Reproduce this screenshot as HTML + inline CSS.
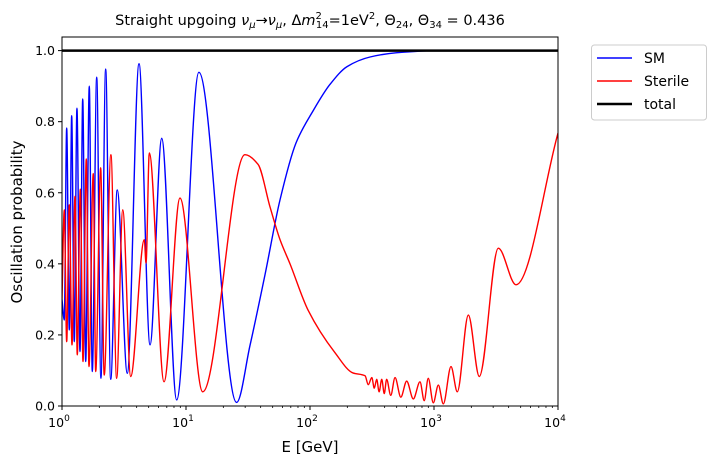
<!DOCTYPE html>
<html><head><meta charset="utf-8"><style>
html,body{margin:0;padding:0;background:#fff;}
svg{display:block;font-family:"DejaVu Sans","Liberation Sans",sans-serif;}
</style></head><body>
<svg id="chart" width="715" height="465" viewBox="0 0 715 465">
<text x="310" y="25" text-anchor="middle" font-size="14.5">Straight upgoing <tspan font-style="italic">ν</tspan><tspan font-size="10" dy="3" font-style="italic">μ</tspan><tspan dy="-3">→</tspan><tspan font-style="italic">ν</tspan><tspan font-size="10" dy="3" font-style="italic">μ</tspan><tspan dy="-3">, Δ</tspan><tspan font-style="italic">m</tspan><tspan font-size="10" dy="-6">2</tspan><tspan font-size="10" dx="-6" dy="9">14</tspan><tspan dy="-3">=1eV</tspan><tspan font-size="10" dy="-6">2</tspan><tspan dy="6">, Θ</tspan><tspan font-size="10" dy="3">24</tspan><tspan dy="-3">, Θ</tspan><tspan font-size="10" dy="3">34</tspan><tspan dy="-3"> = 0.436</tspan></text>
<g id="plot"></g>
<text x="310" y="452" text-anchor="middle" font-size="15">E [GeV]</text>
<text x="22" y="222" text-anchor="middle" font-size="15" transform="rotate(-90 22 222)">Oscillation probability</text>
<g>
<rect x="591.5" y="45" width="115" height="75" rx="3" fill="#fff" stroke="#ccc"/>
<line x1="597" y1="58" x2="632" y2="58" stroke="#0000ff" stroke-width="1.5"/>
<text x="644" y="63" font-size="14">SM</text>
<line x1="597" y1="81" x2="632" y2="81" stroke="#ff0000" stroke-width="1.5"/>
<text x="644" y="86" font-size="14">Sterile</text>
<line x1="597" y1="104" x2="632" y2="104" stroke="#000" stroke-width="2.5"/>
<text x="644" y="109" font-size="14">total</text>
</g>
</svg>
<script>
const smE=[1,1.043,1.091,1.145,1.197,1.256,1.32,1.397,1.469,1.553,1.66,1.755,1.905,2.06,2.25,2.47,2.79,3.36,4.18,5.13,6.37,8.41,12.7,25.6,32.8,43.4,57.3,77.1,105.7,145,199,305,503,1118,10000];
const smP=[0.3,0.242,0.782,0.214,0.817,0.181,0.838,0.153,0.864,0.125,0.9,0.097,0.925,0.078,0.948,0.075,0.608,0.092,0.963,0.172,0.753,0.017,0.939,0.010,0.17,0.37,0.58,0.74,0.83,0.905,0.955,0.982,0.994,1.0,1.0];
const stE=[1,1.043,1.091,1.145,1.204,1.273,1.328,1.405,1.477,1.57,1.651,1.787,1.87,2.05,2.19,2.48,2.76,3.09,3.58,4.61,4.76,5.06,6.65,8.94,13.64,29.9,38.1,47.6,57.3,69,96.4,159,222,278,295,315,330,345,361,379,397,415,448,485,540,602,681,771,834,899,987,1084,1189,1371,1541,1892,2318,3300,4585,10000];
const stP=[0.3,0.552,0.181,0.566,0.172,0.59,0.144,0.61,0.125,0.695,0.111,0.654,0.097,0.67,0.087,0.707,0.078,0.552,0.083,0.468,0.402,0.712,0.068,0.585,0.040,0.707,0.68,0.56,0.468,0.40,0.27,0.15,0.093,0.085,0.06,0.08,0.05,0.075,0.04,0.075,0.035,0.075,0.03,0.08,0.025,0.07,0.02,0.068,0.015,0.078,0.009,0.059,0.006,0.111,0.040,0.256,0.083,0.444,0.341,0.768];
const totE=[1,10000];
const totP=[1,1];
const xTicks=[1,10,100,1000,10000];
const xTickExp=["0","1","2","3","4"];
const yTicks=[0,0.2,0.4,0.6,0.8,1.0];
const yTickLabels=["0.0","0.2","0.4","0.6","0.8","1.0"];

const L=62,R=558,T=37,B=406;
const Y1=50.6;
function xs(e){return L+(Math.log10(e)-0)/(4-0)*(R-L);}
function ys(p){return B-p*(B-Y1);}
const NS="http://www.w3.org/2000/svg";
const g=document.getElementById('plot');
function mk(t,a){const e=document.createElementNS(NS,t);for(const k in a)e.setAttribute(k,a[k]);return e;}

function monoPath(E,P){
  const x=E.map(Math.log10),y=P,n=x.length;
  const d=[],m=new Array(n);
  for(let i=0;i<n-1;i++)d.push((y[i+1]-y[i])/(x[i+1]-x[i]));
  m[0]=d[0];m[n-1]=d[n-2];
  for(let i=1;i<n-1;i++){
    if(d[i-1]*d[i]<=0)m[i]=0;
    else{const w1=2*(x[i+1]-x[i])+(x[i]-x[i-1]),w2=(x[i+1]-x[i])+2*(x[i]-x[i-1]);m[i]=(w1+w2)/(w1/d[i-1]+w2/d[i]);}
  }
  let s="M"+xs(E[0]).toFixed(2)+","+ys(y[0]).toFixed(2);
  for(let i=0;i<n-1;i++){
    const h=x[i+1]-x[i];
    const c1x=x[i]+h/3,c1y=y[i]+m[i]*h/3,c2x=x[i+1]-h/3,c2y=y[i+1]-m[i+1]*h/3;
    s+="C"+xs(Math.pow(10,c1x)).toFixed(2)+","+ys(c1y).toFixed(2)+" "+xs(Math.pow(10,c2x)).toFixed(2)+","+ys(c2y).toFixed(2)+" "+xs(E[i+1]).toFixed(2)+","+ys(y[i+1]).toFixed(2);
  }
  return s;
}

const clip=mk('clipPath',{id:'cp'});clip.appendChild(mk('rect',{x:L,y:T,width:R-L,height:B-T}));g.appendChild(clip);

const sm=mk('path',{d:monoPath(smE,smP),fill:'none',stroke:'#0000ff','stroke-width':1.4,'clip-path':'url(#cp)'});


g.appendChild(sm);
const st=mk('path',{d:monoPath(stE,stP),fill:'none',stroke:'#ff0000','stroke-width':1.4,'clip-path':'url(#cp)'});


g.appendChild(st);
const tot=mk('line',{x1:xs(totE[0]),y1:ys(totP[0]),x2:xs(totE[1]),y2:ys(totP[1]),stroke:'#000','stroke-width':2.5});


g.appendChild(tot);

const frame=mk('rect',{x:L,y:T,width:R-L,height:B-T,fill:'none',stroke:'#000','stroke-width':1});


g.appendChild(frame);

xTicks.forEach((v,i)=>{
  const x=xs(v);
  const tk=mk('line',{x1:x,y1:B,x2:x,y2:B+4,stroke:'#000'});
  
  
  g.appendChild(tk);
  const t=mk('text',{x:x-3,y:B+21,'text-anchor':'middle','font-size':12.5});
  
  
  t.textContent='10';
  const sp=mk('tspan',{'font-size':9,dy:-6});sp.textContent=xTickExp[i];t.appendChild(sp);
  g.appendChild(t);
  if(i<xTicks.length-1){for(let k=2;k<10;k++){const mx=xs(v*k);
    const mt=mk('line',{x1:mx,y1:B,x2:mx,y2:B+2,stroke:'#000','stroke-width':0.8});
    
    
    g.appendChild(mt);}}
});
yTicks.forEach((v,i)=>{
  const y=ys(v);
  const tk=mk('line',{x1:L-4,y1:y,x2:L,y2:y,stroke:'#000'});
  
  
  g.appendChild(tk);
  const t=mk('text',{x:L-7,y:y+4.5,'text-anchor':'end','font-size':12.5});
  
  
  t.textContent=yTickLabels[i];g.appendChild(t);
});
</script>
</body></html>
